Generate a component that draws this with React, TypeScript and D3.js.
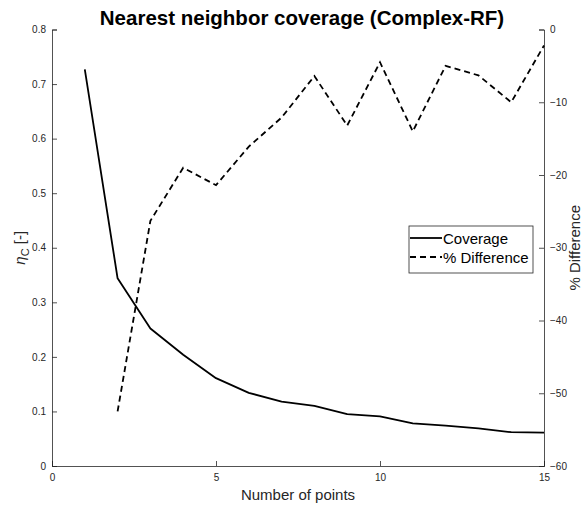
import React, { useEffect, useRef } from 'react';
import * as d3 from 'd3';

// number of points (x)
const points = [1, 2, 3, 4, 5, 6, 7, 8, 9, 10, 11, 12, 13, 14, 15];
// coverage eta_C (left axis)
const coverage = [0.727, 0.344, 0.252, 0.204, 0.161, 0.134, 0.118, 0.110, 0.095, 0.091, 0.078, 0.074, 0.069, 0.062, 0.061];
// % difference (right axis), starts at 2 points
const diffPoints = [2, 3, 4, 5, 6, 7, 8, 9, 10, 11, 12, 13, 14, 15];
const diffValues = [-52.5, -26.3, -19.0, -21.4, -16.1, -12.1, -6.4, -13.2, -4.5, -14.0, -5.0, -6.3, -10.0, -2.2];

const xTicks = [0, 5, 10, 15];
const leftTicks = [0, 0.1, 0.2, 0.3, 0.4, 0.5, 0.6, 0.7, 0.8];
const rightTicks = [0, -10, -20, -30, -40, -50, -60];
const legendItems = ['Coverage', '% Difference'];

const App = () => {
  const svgRef = useRef<SVGSVGElement | null>(null);

  useEffect(() => {
    const svg = d3.select(svgRef.current);
    svg.selectAll('*').remove();

    const W = 583;
    const H = 506;
    const left = 52;
    const right = 544;
    const top = 29.5;
    const bottom = 466;
    const axisColor = '#262626';
    const font = 'Liberation Sans, Arial, sans-serif';

    const x = d3.scaleLinear().domain([0, 15]).range([left, right]);
    const yL = d3.scaleLinear().domain([0, 0.8]).range([bottom, top]);
    const yR = d3.scaleLinear().domain([-60, 0]).range([bottom, top]);

    svg.attr('width', W).attr('height', H);
    svg.append('rect').attr('width', W).attr('height', H).attr('fill', '#fff');

    // bottom axis
    const gx = svg.append('g')
      .attr('transform', `translate(0,${bottom})`)
      .call(d3.axisBottom(x).tickValues(xTicks).tickSize(-5).tickPadding(8).tickFormat(d3.format('d')));

    // left axis
    const gl = svg.append('g')
      .attr('transform', `translate(${left},0)`)
      .call(d3.axisLeft(yL).tickValues(leftTicks).tickSize(-5).tickPadding(6)
        .tickFormat((d) => (d === 0 ? '0' : d3.format('.1f')(d as number))));

    // right axis
    const gr = svg.append('g')
      .attr('transform', `translate(${right},0)`)
      .call(d3.axisRight(yR).tickValues(rightTicks).tickSize(-5).tickPadding(6).tickFormat(d3.format('d')));

    [gx, gl, gr].forEach((g) => {
      g.select('.domain').attr('stroke', axisColor).attr('stroke-width', 0.8);
      g.selectAll('.tick line').attr('stroke', axisColor).attr('stroke-width', 0.8);
      g.selectAll('.tick text').attr('fill', axisColor).style('font-family', font).style('font-size', '10px');
    });

    // lines
    const covLine = d3.line<number>()
      .x((d, i) => x(points[i]))
      .y((d) => yL(d));
    svg.append('path')
      .datum(coverage)
      .attr('fill', 'none')
      .attr('stroke', '#000')
      .attr('stroke-width', 1.8)
      .attr('stroke-linejoin', 'round')
      .attr('d', covLine);

    const diffLine = d3.line<number>()
      .x((d, i) => x(diffPoints[i]))
      .y((d) => yR(d));
    svg.append('path')
      .datum(diffValues)
      .attr('fill', 'none')
      .attr('stroke', '#000')
      .attr('stroke-width', 1.8)
      .attr('stroke-dasharray', '6,4')
      .attr('d', diffLine);

    // title
    svg.append('text')
      .attr('x', 302)
      .attr('y', 25)
      .attr('text-anchor', 'middle')
      .style('font-family', font)
      .style('font-size', '20.5px')
      .style('font-weight', 'bold')
      .text('Nearest neighbor coverage (Complex-RF)');

    // x label
    svg.append('text')
      .attr('x', (left + right) / 2)
      .attr('y', 500)
      .attr('text-anchor', 'middle')
      .attr('fill', axisColor)
      .style('font-family', font)
      .style('font-size', '15px')
      .text('Number of points');

    // left y label
    const yl = svg.append('text')
      .attr('transform', `translate(25,${(top + bottom) / 2}) rotate(-90)`)
      .attr('text-anchor', 'middle')
      .attr('fill', axisColor)
      .style('font-family', font)
      .style('font-size', '15px');
    yl.append('tspan').style('font-style', 'italic').text('η');
    yl.append('tspan').attr('dy', 4).style('font-size', '11px').text('C');
    yl.append('tspan').attr('dy', -4).text(' [-]');

    // right y label
    svg.append('text')
      .attr('transform', `translate(580,${(top + bottom) / 2}) rotate(-90)`)
      .attr('text-anchor', 'middle')
      .attr('fill', axisColor)
      .style('font-family', font)
      .style('font-size', '15px')
      .text('% Difference');

    // legend
    const lg = svg.append('g').attr('transform', 'translate(409,226)');
    lg.append('rect')
      .attr('width', 124)
      .attr('height', 47)
      .attr('fill', '#fff')
      .attr('stroke', axisColor)
      .attr('stroke-width', 0.8);
    legendItems.forEach((name, i) => {
      const yy = 12 + i * 19;
      lg.append('line')
        .attr('x1', 1).attr('x2', 33)
        .attr('y1', yy).attr('y2', yy)
        .attr('stroke', '#000')
        .attr('stroke-width', 1.8)
        .attr('stroke-dasharray', i === 1 ? '6,4' : null);
      lg.append('text')
        .attr('x', 34)
        .attr('y', yy + 6)
        .style('font-family', font)
        .style('font-size', '15px')
        .text(name);
    });
  }, []);

  return (
    <svg ref={svgRef} style={{ position: 'absolute', left: 0, top: 0, display: 'block' }}></svg>
  );
};

export default App;
